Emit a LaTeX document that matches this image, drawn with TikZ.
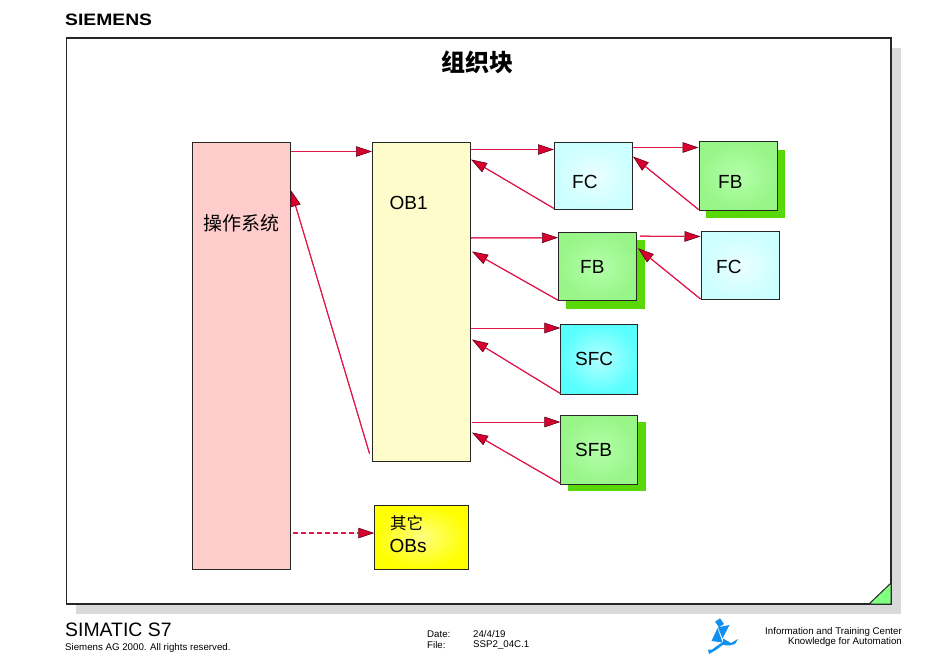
\documentclass[tikz,border=0pt]{standalone}
\usepackage{fontspec}
\setmainfont{Liberation Sans}
\newfontfamily\cjkfont{Noto Sans CJK SC}
\usetikzlibrary{arrows.meta}
\definecolor{linkred}{HTML}{E0184A}
\definecolor{tipred}{HTML}{D8002E}
\definecolor{tipdark}{HTML}{600018}
\definecolor{shadowgreen}{HTML}{58D808}
\definecolor{logoblue}{HTML}{1090F0}
\definecolor{fbinner}{HTML}{B4FFAA}
\definecolor{fbouter}{HTML}{98F588}
\tikzset{
  block/.style={draw=black!85,line width=1pt,inner sep=0pt},
  fcbox/.style={block,inner color=cyan!8!white,outer color=cyan!20!white},
  fbbox/.style={block,inner color=fbinner,outer color=fbouter},
  shadowbox/.style={fill=shadowgreen,inner sep=0pt},
  tag/.style={inner sep=0pt,font=\fontsize{19}{22}\selectfont},
  small/.style={inner sep=0pt,font=\fontsize{9.7}{11}\selectfont},
  link/.style={draw=linkred,line width=1pt,-{Triangle[length=16pt,width=10.5pt,fill=tipred,color=tipdark,line width=0.6pt]},
    postaction={draw=linkred,line width=1pt,-,shorten >=16pt}},
  dashlink/.style={draw=linkred,line width=0.01pt,-{Triangle[length=16pt,width=10.5pt,fill=tipred,color=tipdark,line width=0.6pt]},
    postaction={draw=linkred,line width=1.2pt,-,shorten >=16pt,dash pattern=on 5pt off 3pt}},
}
\begin{document}
\begin{tikzpicture}[x=1pt,y=-1pt]
\useasboundingbox (0,0) rectangle (950,658);
% frame
\fill[black!15] (76,48) rectangle (901,614);
\node[draw=black!85,fill=white,line width=1.2pt,minimum width=824.5pt,minimum height=566pt,inner sep=0pt] (frame) at (478.75,321) {};
\fill[green!50!white,draw=black!85,line width=1pt] (869,604) -- (891,583) -- (891,604) -- cycle;
\node[inner sep=0pt,font=\fontsize{24}{28}\selectfont\bfseries\cjkfont] (title) at (477,62) {组织块};
\node[anchor=west,inner sep=0pt,font=\fontsize{16.5}{20}\selectfont\bfseries] (logo) at (65,19.5) {\scalebox{1.17}[1]{SIEMENS}};

% blocks
\node[block,fill=red!20!white,minimum width=98pt,minimum height=426pt] (opsys) at (241.5,356) {};
\node[block,fill=yellow!20!white,minimum width=98pt,minimum height=318pt] (obone) at (421.5,302) {};
\node[block,inner color=yellow!50!white,outer color=yellow,minimum width=93.5pt,minimum height=64pt] (other) at (421.5,537) {};

\node[shadowbox,minimum width=79pt,minimum height=68pt] (fbashadow) at (745.5,184) {};
\node[shadowbox,minimum width=79pt,minimum height=69pt] (fbbshadow) at (605,274) {};
\node[shadowbox,minimum width=78pt,minimum height=69pt] (sfbshadow) at (607,456) {};

\node[fcbox,minimum width=78pt,minimum height=66pt] (fca) at (593.5,176) {};
\node[fbbox,minimum width=78pt,minimum height=68pt] (fba) at (738,176) {};
\node[fbbox,minimum width=78pt,minimum height=68pt] (fbb) at (597.5,266.7) {};
\node[fcbox,minimum width=78pt,minimum height=68pt] (fcb) at (740,265.5) {};
\node[block,inner color=cyan!30!white,outer color=cyan!65!white,minimum width=77pt,minimum height=70pt] (sfc) at (599.3,359) {};
\node[fbbox,minimum width=77pt,minimum height=69pt] (sfb) at (599.3,449.5) {};

% block texts
\node[tag,anchor=west,font=\fontsize{19}{22}\selectfont\cjkfont] (opsystext) at (203,223) {操作系统};
\node[tag,anchor=west] (obonetext) at (389.5,202.5) {OB1};
\node[tag,anchor=west,font=\fontsize{16.5}{18}\selectfont\cjkfont] (othertexta) at (390,523.5) {其它};
\node[tag,anchor=west] (othertextb) at (389.5,545.5) {OBs};
\node[tag,anchor=west] (fcatext) at (572,181.5) {FC};
\node[tag,anchor=west] (fbatext) at (718,181.5) {FB};
\node[tag,anchor=west] (fbbtext) at (580,266.5) {FB};
\node[tag,anchor=west] (fcbtext) at (716,266.5) {FC};
\node[tag,anchor=west] (sfctext) at (575,358.5) {SFC};
\node[tag,anchor=west] (sfbtext) at (575,449.5) {SFB};

% connectors
\draw[link] ([yshift=-9pt]opsys.north east) -- ([yshift=-9pt]obone.north west);
\draw[link] ([xshift=-2.5pt,yshift=8pt]obone.south west) -- ([yshift=-48pt]opsys.north east);
\draw[dashlink] ([xshift=2pt,yshift=36.5pt]opsys.south east) -- ([yshift=36.5pt]other.south west);

\draw[link] ([yshift=-7pt]obone.north east) -- ([yshift=-7pt]fca.north west);
\draw[link] ([yshift=1pt]fca.south west) -- ([yshift=-17pt]obone.north east);
\draw[link] ([yshift=-95.5pt]obone.north east) -- ([yshift=-5.5pt]fbb.north west);
\draw[link] ([yshift=1pt]fbb.south west) -- ([xshift=1pt,yshift=-109pt]obone.north east);
\draw[link] ([yshift=-185.5pt]obone.north east) -- ([yshift=-4.5pt]sfc.north west);
\draw[link] ([yshift=1pt]sfc.south west) -- ([xshift=1pt,yshift=-197pt]obone.north east);
\draw[link] ([xshift=1pt,yshift=-279.5pt]obone.north east) -- ([yshift=-7.5pt]sfb.north west);
\draw[link] ([yshift=1pt]sfb.south west) -- ([xshift=1pt,yshift=-290pt]obone.north east);

\draw[link] ([yshift=-5pt]fca.north east) -- ([yshift=-6pt]fba.north west);
\draw[link] ([yshift=1pt]fba.south west) -- ([yshift=-14pt]fca.north east);
\draw[link] ([xshift=3pt,yshift=-4pt]fbb.north east) -- ([yshift=-5.5pt]fcb.north west);
\draw[link] ([yshift=1pt]fcb.south west) -- ([xshift=1pt,yshift=-16pt]fbb.north east);

% footer
\node[anchor=west,inner sep=0pt,font=\fontsize{19.4}{22}\selectfont] (simatic) at (65,630) {SIMATIC S7};
\node[small,anchor=west] (rights) at (65,648) {Siemens AG 2000. All rights reserved.};
\node[small,anchor=west] (datekey) at (427,634) {Date:};
\node[small,anchor=west] (filekey) at (427,645) {File:};
\node[small,anchor=west] (dateval) at (473,634) {24/4/19};
\node[small,anchor=west] (fileval) at (473,645) {SSP2\_04C.1};
\node[small,anchor=east] (itc) at (902,631.5) {Information and Training Center};
\node[small,anchor=east] (kfa) at (902,642) {Knowledge for Automation};

% runner
\fill[logoblue] (715,621.7) -- (720,618.3) -- (724,624) -- (719,627.3) -- cycle;
\fill[logoblue] (718,627.3) -- (729.5,625) -- (722.5,638.5) -- cycle;
\fill[logoblue] (717.5,628) -- (711.5,641) -- (722.5,642.5) -- cycle;
\fill[logoblue] (723,638.5) -- (731,643) -- (738,639) -- (735,644) -- (729,645.5) -- (723,645) -- cycle;
\fill[logoblue] (722.5,642) -- (712,649.5) -- (708,649.5) -- (709,654) -- (716,650) -- (724,644) -- cycle;
\end{tikzpicture}
\end{document}
